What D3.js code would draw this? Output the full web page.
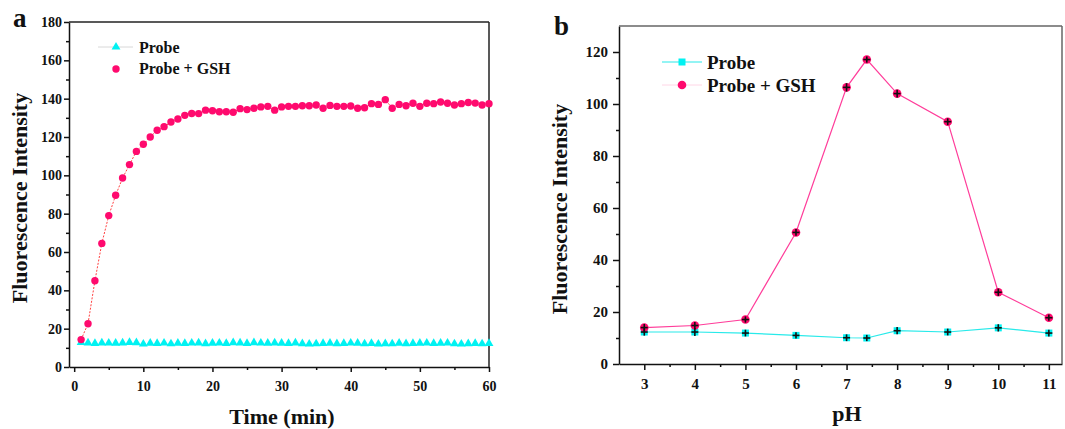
<!DOCTYPE html>
<html>
<head>
<meta charset="utf-8">
<script src="https://cdn.jsdelivr.net/npm/d3@7"></script>
<style>
  body { margin: 0; background: #fff; }
  svg { display: block; font-family: 'Liberation Serif', 'Times New Roman', serif; font-weight: bold; }
  svg text { font-family: 'Liberation Serif', 'Times New Roman', serif; font-weight: bold; }
</style>
</head>
<body>
<script>
// ---- panel a: time course (minutes 1..60)
const timeMin = d3.range(1, 61);
const gshTime = [14.3, 22.6, 45, 64.5, 79, 89.6, 98.6, 105.6, 112.5, 116.2,
  120, 123.5, 125.4, 127.8, 129.4, 131.3, 132.3, 132.2, 134, 133.7,
  133.2, 133.2, 132.9, 134.8, 134.3, 135, 135.7, 136, 134, 135.7,
  136, 136, 136.3, 136.3, 136.7, 135, 136.5, 136, 136, 136.2,
  135, 135.3, 137.4, 137, 139.5, 135, 137, 136.3, 137.6, 136,
  137.6, 137.4, 138.3, 137.6, 136.7, 137.4, 138, 137.7, 136.7, 137.4];
const probeTime = [12.8, 12.6, 12.3, 12.6, 12.5, 12.4, 12.6, 12.8, 12.7, 12.0,
  12.4, 12.3, 12.5, 12.1, 12.4, 12.3, 12.5, 12.6, 12.2, 12.4,
  12.5, 12.3, 12.7, 12.6, 12.3, 12.7, 12.5, 12.4, 12.6, 12.4,
  12.3, 12.6, 12.2, 12.0, 12.1, 12.3, 12.4, 12.2, 12.3, 12.5,
  12.4, 12.1, 12.3, 12.0, 12.2, 12.1, 12.4, 12.2, 12.3, 12.4,
  12.5, 12.3, 12.4, 12.5, 12.1, 12.0, 12.2, 12.3, 12.1, 12.3];

// ---- panel b: pH dependence
const phValues = [3, 4, 5, 6, 7, 7.4, 8, 9, 10, 11];
const gshPh = [14, 14.8, 17.1, 50.6, 106.4, 117.1, 104, 93.2, 27.6, 17.8];
const probePh = [12.3, 12.3, 11.9, 11, 10.1, 10, 12.8, 12.3, 13.9, 11.9];
const gshErr = [1.4, 1.4, 1.2, 1.3, 1.6, 1.2, 1.5, 1.3, 1.4, 1.2];
const probeErr = [1.4, 1.5, 1.3, 1.2, 1.3, 1.2, 1.4, 1.3, 1.4, 1.3];

const xTicksA = d3.range(0, 61, 10);
const yTicksA = d3.range(0, 181, 20);
const xTicksB = d3.range(3, 12, 1);
const yTicksB = d3.range(0, 121, 20);

const pink = '#ff0a6e';
const cyan = '#00f2f2';

const svg = d3.select('body').append('svg')
  .attr('width', 1065)
  .attr('height', 429);

// draws a framed panel with outward ticks, returns scales + group
function framePanel(opt) {
  const x = d3.scaleLinear().domain(opt.xDomain).range([opt.left, opt.right]);
  const y = d3.scaleLinear().domain(opt.yDomain).range([opt.bottom, opt.top]);
  const g = svg.append('g');

  // minor ticks
  g.append('g')
    .attr('transform', `translate(0,${opt.bottom})`)
    .call(d3.axisBottom(x).tickValues(opt.xMinor).tickSize(3).tickFormat(''))
    .call(a => a.select('.domain').remove());
  g.append('g')
    .attr('transform', `translate(${opt.left},0)`)
    .call(d3.axisLeft(y).tickValues(opt.yMinor).tickSize(3).tickFormat(''))
    .call(a => a.select('.domain').remove());

  // major ticks
  const xa = g.append('g')
    .attr('transform', `translate(0,${opt.bottom})`)
    .call(d3.axisBottom(x).tickValues(opt.xTicks).tickSize(opt.tick).tickPadding(opt.xPad).tickSizeOuter(0));
  const ya = g.append('g')
    .attr('transform', `translate(${opt.left},0)`)
    .call(d3.axisLeft(y).tickValues(opt.yTicks).tickSize(opt.tick).tickPadding(opt.yPad).tickSizeOuter(0));
  [xa, ya].forEach(a => {
    a.attr('font-family', null).attr('font-size', opt.fs);
    a.selectAll('text').attr('fill', '#111');
  });
  g.selectAll('.tick line, .domain').attr('stroke', '#111').attr('stroke-width', 1.5);

  // top + right border lines
  g.append('line').attr('x1', opt.left).attr('x2', opt.right)
    .attr('y1', opt.top).attr('y2', opt.top)
    .attr('stroke', opt.frameColor).attr('stroke-width', 1.5);
  g.append('line').attr('x1', opt.right).attr('x2', opt.right)
    .attr('y1', opt.top).attr('y2', opt.bottom)
    .attr('stroke', opt.frameColor).attr('stroke-width', 1.5);

  return { x, y, g };
}

// ================= PANEL A =================
const pa = framePanel({
  left: 69, right: 489, top: 22, bottom: 367,
  xDomain: [-0.75, 60], yDomain: [0, 180],
  xTicks: xTicksA, yTicks: yTicksA,
  xMinor: d3.range(5, 60, 10), yMinor: d3.range(10, 180, 20),
  tick: 5, xPad: 9, yPad: 2, fs: 14, frameColor: '#222'
});

const dataA = timeMin.map((t, i) => ({ t, gsh: gshTime[i], probe: probeTime[i] }));

// thin red connector for Probe + GSH
pa.g.append('path')
  .datum(dataA)
  .attr('fill', 'none')
  .attr('stroke', '#ff4040')
  .attr('stroke-width', 1)
  .attr('stroke-dasharray', '2,1.5')
  .attr('d', d3.line().x(d => pa.x(d.t)).y(d => pa.y(d.gsh)));

// probe triangles
const tri = d3.symbol().type(d3.symbolTriangle).size(34);
pa.g.append('g')
  .selectAll('path')
  .data(dataA)
  .join('path')
  .attr('d', tri)
  .attr('transform', d => `translate(${pa.x(d.t)},${pa.y(d.probe)})`)
  .attr('fill', cyan);

pa.g.append('g')
  .selectAll('circle')
  .data(dataA)
  .join('circle')
  .attr('cx', d => pa.x(d.t))
  .attr('cy', d => pa.y(d.gsh))
  .attr('r', 3.7)
  .attr('fill', pink);

// legend a
const la = svg.append('g');
la.append('line').attr('x1', 98).attr('x2', 133).attr('y1', 47).attr('y2', 47)
  .attr('stroke', '#d8d8d8').attr('stroke-width', 1);
la.append('path').attr('d', tri).attr('transform', 'translate(116,47)').attr('fill', cyan);
la.append('circle').attr('cx', 116).attr('cy', 69).attr('r', 3.7).attr('fill', pink);
la.append('text').attr('x', 139).attr('y', 53).attr('font-size', 16).attr('fill', '#111').text('Probe');
la.append('text').attr('x', 139).attr('y', 74).attr('font-size', 16).attr('fill', '#111').text('Probe + GSH');

svg.append('text').attr('x', 282).attr('y', 424).attr('text-anchor', 'middle')
  .attr('font-size', 22).attr('fill', '#111').text('Time (min)');
svg.append('text').attr('transform', 'translate(27,198) rotate(-90)').attr('text-anchor', 'middle')
  .attr('font-size', 22).attr('fill', '#111').text('Fluorescence Intensity');
svg.append('text').attr('x', 13).attr('y', 27).attr('font-size', 27).attr('fill', '#111').text('a');

// ================= PANEL B =================
const pb = framePanel({
  left: 619, right: 1062, top: 26, bottom: 364,
  xDomain: [2.5, 11.26], yDomain: [0, 130],
  xTicks: xTicksB, yTicks: yTicksB,
  xMinor: d3.range(3.5, 11, 1), yMinor: d3.range(10, 130, 20),
  tick: 6, xPad: 8, yPad: 5, fs: 15, frameColor: '#666'
});

const dataB = phValues.map((p, i) => ({ p, gsh: gshPh[i], probe: probePh[i], ge: gshErr[i], pe: probeErr[i] }));

pb.g.append('path')
  .datum(dataB)
  .attr('fill', 'none')
  .attr('stroke', '#ff3d9a')
  .attr('stroke-width', 1.2)
  .attr('d', d3.line().x(d => pb.x(d.p)).y(d => pb.y(d.gsh)));

pb.g.append('path')
  .datum(dataB)
  .attr('fill', 'none')
  .attr('stroke', '#28eaea')
  .attr('stroke-width', 1.2)
  .attr('d', d3.line().x(d => pb.x(d.p)).y(d => pb.y(d.probe)));

pb.g.append('g')
  .selectAll('rect')
  .data(dataB)
  .join('rect')
  .attr('x', d => pb.x(d.p) - 3.5)
  .attr('y', d => pb.y(d.probe) - 3.5)
  .attr('width', 7).attr('height', 7)
  .attr('fill', cyan);

pb.g.append('g')
  .selectAll('circle')
  .data(dataB)
  .join('circle')
  .attr('cx', d => pb.x(d.p))
  .attr('cy', d => pb.y(d.gsh))
  .attr('r', 4.3)
  .attr('fill', pink);

// black error bars (look like small crosses)
function errBars(key, errKey) {
  const eb = pb.g.append('g').attr('stroke', '#111').attr('stroke-width', 1.6);
  eb.selectAll('.v').data(dataB).join('line')
    .attr('x1', d => pb.x(d.p)).attr('x2', d => pb.x(d.p))
    .attr('y1', d => pb.y(d[key] - d[errKey])).attr('y2', d => pb.y(d[key] + d[errKey]));
  eb.selectAll('.h').data(dataB).join('line')
    .attr('x1', d => pb.x(d.p) - 3.5).attr('x2', d => pb.x(d.p) + 3.5)
    .attr('y1', d => pb.y(d[key])).attr('y2', d => pb.y(d[key]));
}
errBars('probe', 'pe');
errBars('gsh', 'ge');

// legend b
const lb = svg.append('g');
lb.append('line').attr('x1', 662).attr('x2', 702).attr('y1', 62).attr('y2', 62)
  .attr('stroke', '#28eaea').attr('stroke-width', 1.2);
lb.append('rect').attr('x', 678.5).attr('y', 58.5).attr('width', 7).attr('height', 7).attr('fill', cyan);
lb.append('line').attr('x1', 662).attr('x2', 702).attr('y1', 85).attr('y2', 85)
  .attr('stroke', '#ffd6e6').attr('stroke-width', 1);
lb.append('circle').attr('cx', 682).attr('cy', 85).attr('r', 4.3).attr('fill', pink);
lb.append('text').attr('x', 707).attr('y', 68.5).attr('font-size', 19).attr('fill', '#111').text('Probe');
lb.append('text').attr('x', 707).attr('y', 92).attr('font-size', 19).attr('fill', '#111').text('Probe + GSH');

svg.append('text').attr('x', 847).attr('y', 421).attr('text-anchor', 'middle')
  .attr('font-size', 22).attr('fill', '#111').text('pH');
svg.append('text').attr('transform', 'translate(567,209) rotate(-90)').attr('text-anchor', 'middle')
  .attr('font-size', 22).attr('fill', '#111').text('Fluorescence Intensity');
svg.append('text').attr('x', 554).attr('y', 35).attr('font-size', 27).attr('fill', '#111').text('b');
</script>
</body>
</html>
